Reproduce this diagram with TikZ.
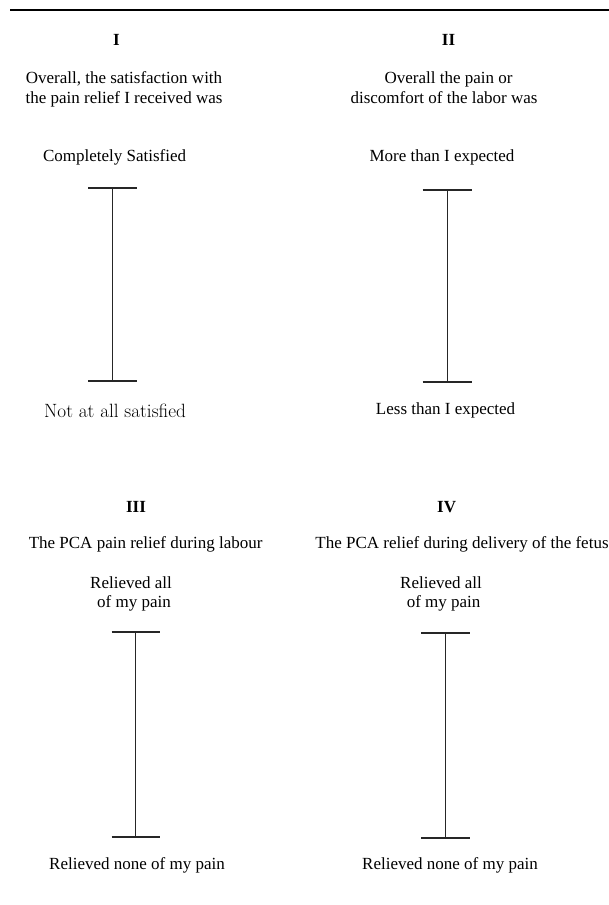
\documentclass[tikz,border=0pt]{standalone}
\usepackage{fontspec}
\newfontfamily\tnr{Liberation Serif}
\begin{document}
\begin{tikzpicture}[x=1pt,y=-1pt,
  txt/.style={anchor=base,inner sep=0pt,font=\tnr\fontsize{17}{19}\selectfont},
  num/.style={anchor=base,inner sep=0pt,font=\tnr\bfseries\fontsize{17}{19}\selectfont},
  alt/.style={anchor=base,inner sep=0pt,font=\fontsize{19.2}{22}\selectfont},
  bar/.style={line width=1.3pt,draw=black!85},
  stem/.style={line width=1pt,draw=black!85},
  rule/.style={line width=1.3pt,draw=black}]
\useasboundingbox (0,0) rectangle (609,905);
% top rule
\coordinate (rl) at (10,10);
\coordinate (rr) at (609,10);
\draw[rule] (rl) -- (rr);

% ---------- Panel I ----------
\node[num] (n1) at (116.5,45) {I};
\node[txt] (q1a) at (124,83.5) {Overall, the satisfaction with};
\node[txt] (q1b) at (124,103) {the pain relief I received was};
\node[txt] (h1) at (114.6,161) {Completely Satisfied};
\coordinate (t1) at (112.6,188);
\coordinate (b1) at (112.6,381);
\draw[bar] ([xshift=-24.2pt]t1) -- ([xshift=24.2pt]t1);
\draw[bar] ([xshift=-24.2pt]b1) -- ([xshift=24.2pt]b1);
\draw[stem] (t1) -- (b1);
\node[alt] (l1) at (115,417) {Not at all satisfied};

% ---------- Panel II ----------
\node[num] (n2) at (448.5,45) {II};
\node[txt] (q2a) at (448.5,83.5) {Overall the pain or};
\node[txt] (q2b) at (444,103) {discomfort of the labor was};
\node[txt] (h2) at (442,161) {More than I expected};
\coordinate (t2) at (447,190);
\coordinate (b2) at (447,382);
\draw[bar] ([xshift=-24.5pt]t2) -- ([xshift=24.5pt]t2);
\draw[bar] ([xshift=-24.5pt]b2) -- ([xshift=24.5pt]b2);
\draw[stem] (t2) -- (b2);
\node[txt] (l2) at (445.6,414) {Less than I expected};

% ---------- Panel III ----------
\node[num] (n3) at (136,512) {III};
\node[txt] (q3) at (145.6,548) {The PCA pain relief during labour};
\node[txt] (h3a) at (131,588) {Relieved all};
\node[txt] (h3b) at (134,607) {of my pain};
\coordinate (t3) at (135.6,632);
\coordinate (b3) at (135.6,837);
\draw[bar] ([xshift=-24pt]t3) -- ([xshift=24pt]t3);
\draw[bar] ([xshift=-24pt]b3) -- ([xshift=24pt]b3);
\draw[stem] (t3) -- (b3);
\node[txt] (l3) at (137,869) {Relieved none of my pain};

% ---------- Panel IV ----------
\node[num] (n4) at (446.6,512) {IV};
\node[txt] (q4) at (462,548) {The PCA relief during delivery of the fetus};
\node[txt] (h4a) at (441,588) {Relieved all};
\node[txt] (h4b) at (443.6,607) {of my pain};
\coordinate (t4) at (445.3,633);
\coordinate (b4) at (445.3,838);
\draw[bar] ([xshift=-24.3pt]t4) -- ([xshift=24.3pt]t4);
\draw[bar] ([xshift=-24.3pt]b4) -- ([xshift=24.3pt]b4);
\draw[stem] (t4) -- (b4);
\node[txt] (l4) at (450,869) {Relieved none of my pain};
\end{tikzpicture}
\end{document}
